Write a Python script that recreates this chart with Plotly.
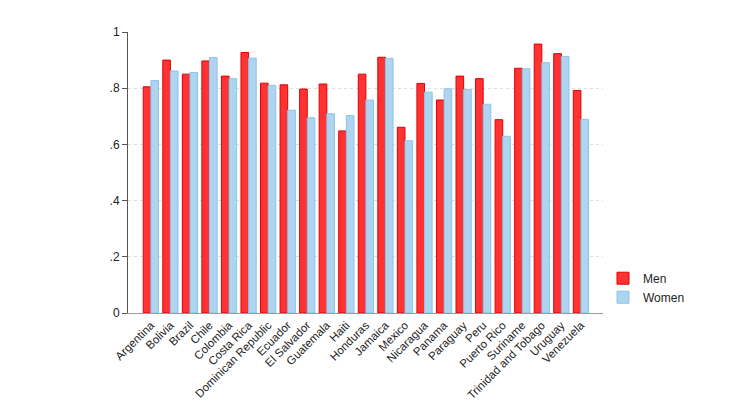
import plotly.graph_objects as go

countries = ["Argentina", "Bolivia", "Brazil", "Chile", "Colombia", "Costa Rica",
             "Dominican Republic", "Ecuador", "El Salvador", "Guatemala", "Haiti",
             "Honduras", "Jamaica", "Mexico", "Nicaragua", "Panama", "Paraguay",
             "Peru", "Puerto Rico", "Suriname", "Trinidad and Tobago", "Uruguay",
             "Venezuela"]
men = [0.805, 0.900, 0.850, 0.897, 0.843, 0.927, 0.818, 0.812, 0.797, 0.815, 0.648,
       0.850, 0.910, 0.661, 0.817, 0.758, 0.843, 0.834, 0.688, 0.871, 0.957, 0.923, 0.792]
women = [0.827, 0.861, 0.856, 0.909, 0.834, 0.907, 0.810, 0.722, 0.695, 0.709, 0.703,
         0.758, 0.906, 0.613, 0.786, 0.798, 0.795, 0.743, 0.629, 0.869, 0.891, 0.913, 0.689]
y_ticks = [0, 0.2, 0.4, 0.6, 0.8, 1]
y_tick_labels = ["0", ".2", ".4", ".6", ".8", "1"]

fig = go.Figure()
fig.add_trace(go.Bar(x=countries, y=men, name="Men",
                     marker=dict(color="#FF3333", line=dict(color="#E00000", width=1))))
fig.add_trace(go.Bar(x=countries, y=women, name="Women",
                     marker=dict(color="#AED4EF", line=dict(color="#8CC4EA", width=1))))

fig.update_layout(
    width=750, height=402,
    paper_bgcolor="white", plot_bgcolor="white",
    margin=dict(l=128, r=147, t=32, b=89, autoexpand=False),
    barmode="group", bargap=0.22, bargroupgap=0,
    font=dict(family="Liberation Sans, Arial, sans-serif", size=12, color="#222222"),
    showlegend=True,
    legend=dict(x=1.0, y=0.09, xanchor="left", yanchor="middle",
                font=dict(size=12), bgcolor="rgba(0,0,0,0)", tracegroupgap=2),
)
fig.update_xaxes(
    range=[-1.17, 23.13], tickangle=-45, showgrid=False, automargin=False,
    showline=True, linecolor="#9a9a9a", linewidth=1,
    ticks="", tickfont=dict(size=11.5),
)
fig.update_yaxes(
    range=[0, 1], tickvals=y_ticks, ticktext=y_tick_labels, automargin=False,
    showgrid=True, gridcolor="#dddddd", griddash="dot", gridwidth=1,
    showline=True, linecolor="#555555", linewidth=1,
    ticks="outside", ticklen=5, tickcolor="#555555",
    tickfont=dict(size=12), zeroline=False,
)
fig.write_html("out.html", config={"displayModeBar": False},
               post_script="document.body.style.margin='0';")
